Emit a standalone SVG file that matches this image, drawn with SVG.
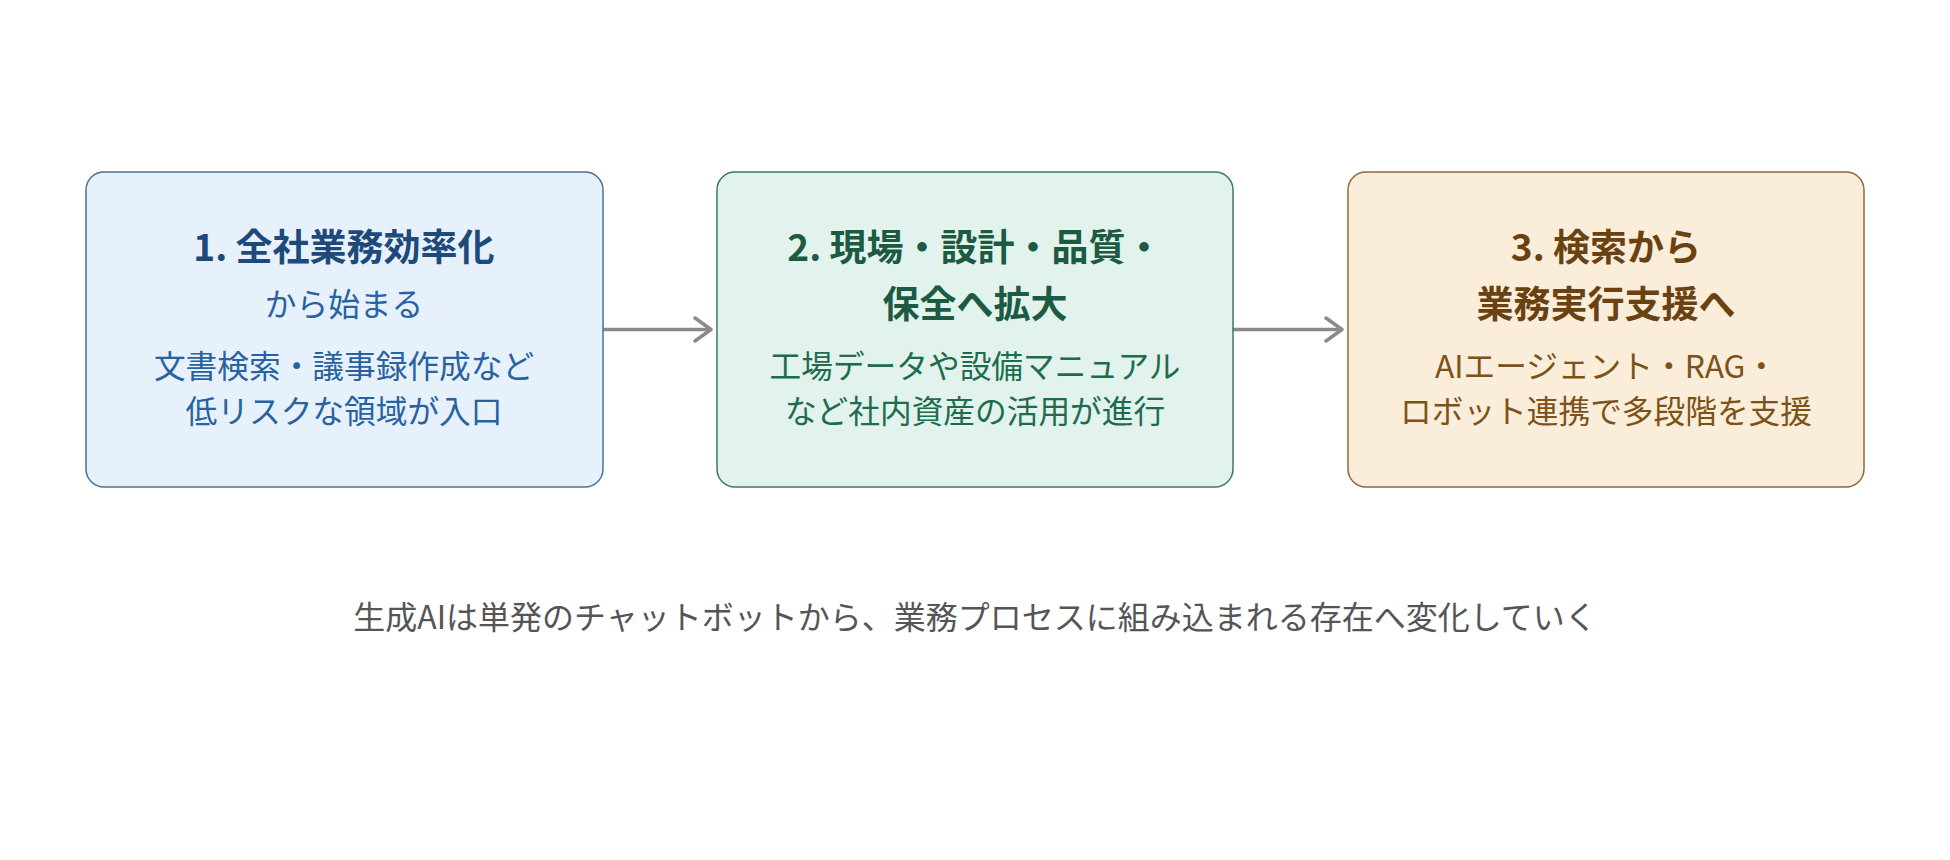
<svg xmlns="http://www.w3.org/2000/svg" width="1950" height="860" viewBox="0 0 1950 860">
  <style>
    .t { font-family: "Noto Sans CJK JP", "Noto Sans", "Liberation Sans", sans-serif; text-anchor: middle; }
    .title { font-size: 37px; font-weight: 700; }
    .body { font-size: 31.7px; font-weight: 400; }
    .box { stroke-width: 1.5; }
    .b1 { fill: #E7F1FB; stroke: #4A7196; }
    .b2 { fill: #E1F3EC; stroke: #3C7A60; }
    .b3 { fill: #FAEDDA; stroke: #8C6A3C; }
    .c1t { fill: #1D4A7A; } .c1b { fill: #2862A0; }
    .c2t { fill: #1C5A42; } .c2b { fill: #1F6B4E; }
    .c3t { fill: #6A4210; } .c3b { fill: #7D5218; }
    .conn { stroke: #8A8A8A; stroke-width: 3.5; fill: none; }
    .caption { font-size: 32px; fill: #555555; }
  </style>
  <defs>
    <marker id="chev" viewBox="0 0 22 28" refX="19" refY="14" markerWidth="22" markerHeight="28" markerUnits="userSpaceOnUse" orient="auto">
      <path d="M3,2.5 L19,14 L3,25.5" fill="none" stroke="#8A8A8A" stroke-width="3.5" stroke-linecap="round" stroke-linejoin="round"/>
    </marker>
  </defs>
  <rect width="1950" height="860" fill="#FFFFFF"/>

  <g id="connectors">
    <line class="conn" x1="603" y1="329.5" x2="711" y2="329.5" marker-end="url(#chev)"/>
    <line class="conn" x1="1233" y1="329.5" x2="1342" y2="329.5" marker-end="url(#chev)"/>
  </g>

  <g id="node1">
    <rect class="box b1" x="86" y="172" width="517" height="315" rx="18"/>
    <text class="t title c1t" x="344" y="261">1. 全社業務効率化</text>
    <text class="t body c1b" x="344" y="316">から始まる</text>
    <text class="t body c1b" x="344" y="378">文書検索・議事録作成など</text>
    <text class="t body c1b" x="344" y="423">低リスクな領域が入口</text>
  </g>

  <g id="node2">
    <rect class="box b2" x="717" y="172" width="516" height="315" rx="18"/>
    <text class="t title c2t" x="975" y="261">2. 現場・設計・品質・</text>
    <text class="t title c2t" x="975" y="318">保全へ拡大</text>
    <text class="t body c2b" x="975" y="378">工場データや設備マニュアル</text>
    <text class="t body c2b" x="975" y="423">など社内資産の活用が進行</text>
  </g>

  <g id="node3">
    <rect class="box b3" x="1348" y="172" width="516" height="315" rx="18"/>
    <text class="t title c3t" x="1606" y="261">3. 検索から</text>
    <text class="t title c3t" x="1606" y="318">業務実行支援へ</text>
    <text class="t body c3b" x="1606" y="378">AIエージェント・RAG・</text>
    <text class="t body c3b" x="1606" y="423">ロボット連携で多段階を支援</text>
  </g>

  <g id="caption">
    <text class="t caption" x="975" y="629">生成AIは単発のチャットボットから、業務プロセスに組み込まれる存在へ変化していく</text>
  </g>
</svg>
